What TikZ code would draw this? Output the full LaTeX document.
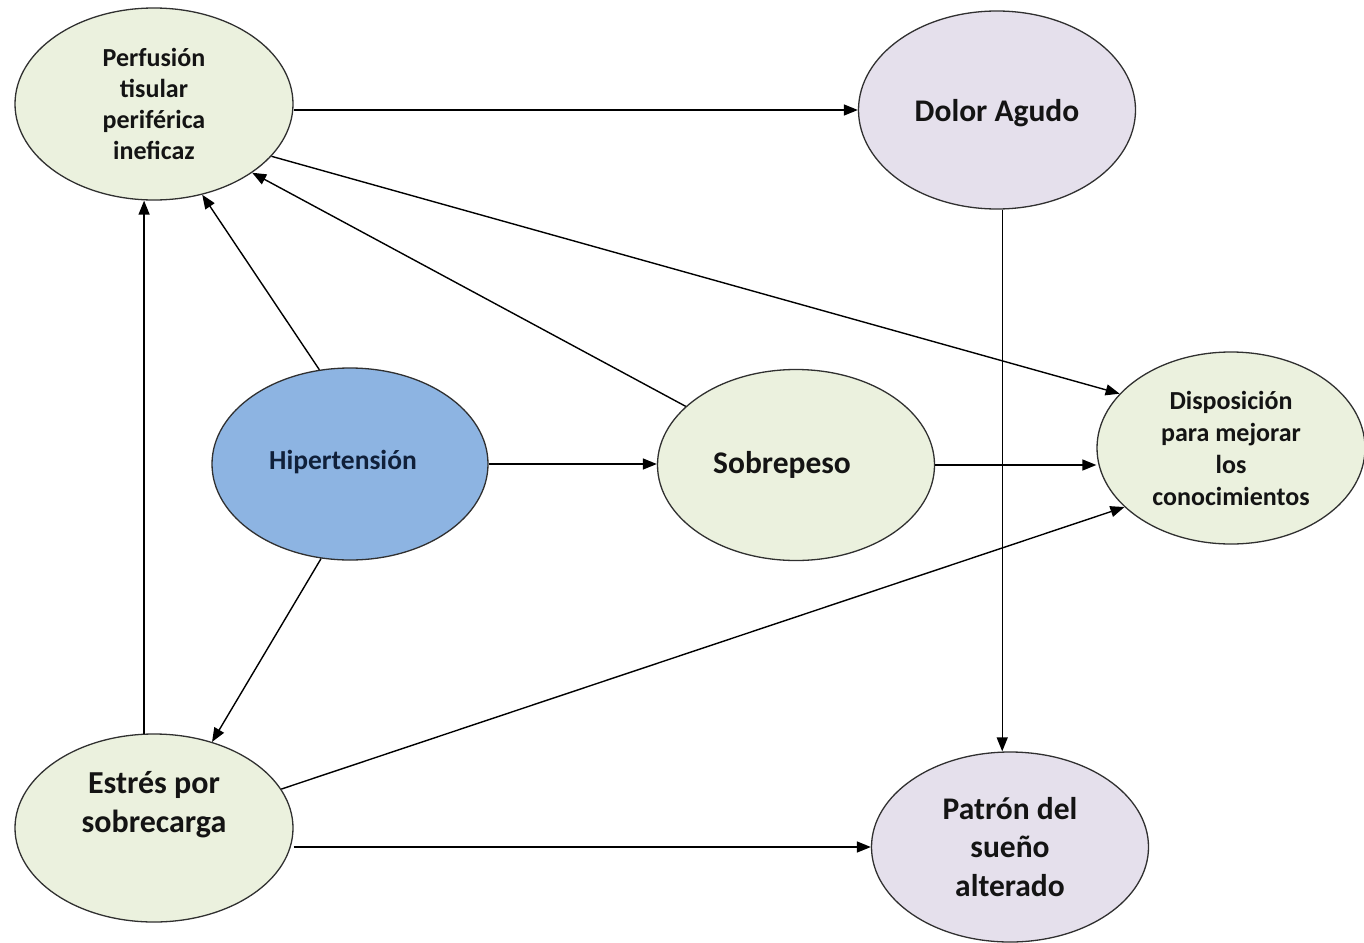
\documentclass[tikz,border=0pt]{standalone}
\usepackage{fontspec}
\setmainfont{Carlito}
\usetikzlibrary{arrows.meta,shapes.geometric}
\definecolor{olivefill}{HTML}{EBF1DE}
\definecolor{lilacfill}{HTML}{E5E0EC}
\definecolor{bluefill}{HTML}{8DB4E2}
\definecolor{rimgray}{HTML}{303030}
\definecolor{inkblack}{HTML}{141414}
\definecolor{inknavy}{HTML}{10203A}
\tikzset{
  bubble/.style={ellipse, draw=rimgray, line width=1.3pt, inner sep=0pt,
    align=center, text=inkblack},
  greenb/.style={bubble, fill=olivefill},
  lilacb/.style={bubble, fill=lilacfill},
  blueb/.style={bubble, fill=bluefill, text=inknavy},
  smalltxt/.style={font=\fontsize{26}{31}\selectfont\bfseries},
  bigtxt/.style={font=\fontsize{31.5}{38.5}\selectfont\bfseries},
  caption/.style={align=center, text=inkblack, inner sep=0pt},
  link/.style={draw=black, line width=1.4pt,
    -{Triangle[length=14pt,width=11pt]}, shorten >=0pt}
}
\begin{document}
\begin{tikzpicture}[x=1pt,y=-1pt]
\useasboundingbox (0,0) rectangle (1364,942);

% nodes
\node[greenb, smalltxt, minimum width=278pt, minimum height=192pt] (perf) at (154,104)
  {Perfusión\\tisular\\periférica\\ineficaz};
\node[lilacb, minimum width=277pt, minimum height=198pt,
  label={[caption, bigtxt, yshift=-3pt]center:Dolor Agudo}] (dolor) at (997,110) {};
\node[greenb, smalltxt, font=\fontsize{26}{32}\selectfont\bfseries,
  minimum width=268pt, minimum height=192pt] (disp) at (1231,448)
  {Disposición\\para mejorar\\los\\conocimientos};
\node[blueb, minimum width=276pt, minimum height=192pt,
  label={[caption, text=inknavy, font=\fontsize{27.5}{33}\selectfont\bfseries,
          xshift=-7pt, yshift=2pt]center:Hipertensión}] (hiper) at (350,464) {};
\node[greenb, minimum width=277pt, minimum height=191pt,
  label={[caption, bigtxt, xshift=-14pt]center:Sobrepeso}] (sobre) at (796,465) {};
\node[greenb, minimum width=278pt, minimum height=188pt,
  label={[caption, font=\fontsize{32}{39}\selectfont\bfseries,
          yshift=23pt]center:Estrés por\\sobrecarga}] (estres) at (154,828) {};
\node[lilacb, bigtxt, minimum width=277pt, minimum height=190pt] (patron) at (1010,847)
  {Patrón del\\sueño\\alterado};

% connectors
\draw[link] (perf.east |- dolor.west) -- (dolor.west);
\draw[link] (perf.-24) -- (disp.154);
\draw[link] (sobre.152.6) -- (perf.-35.6);
\draw[link] (hiper.108.8) -- (perf.-62);
\draw[link] (estres.96) -- (estres.96 |- perf.south);
\draw[link] (hiper.east) -- (hiper.east -| sobre.west);
\draw[link] (sobre.east) -- (sobre.east -| disp.west);
\draw[link] (hiper.-107) -- (estres.56.6);
\draw[link] (estres.17.8) -- (disp.-151.5);
\draw[link] (estres.east |- patron.west) -- (patron.west);
\draw[link] (dolor.-87) -- (dolor.-87 |- patron.north);
\end{tikzpicture}
\end{document}
